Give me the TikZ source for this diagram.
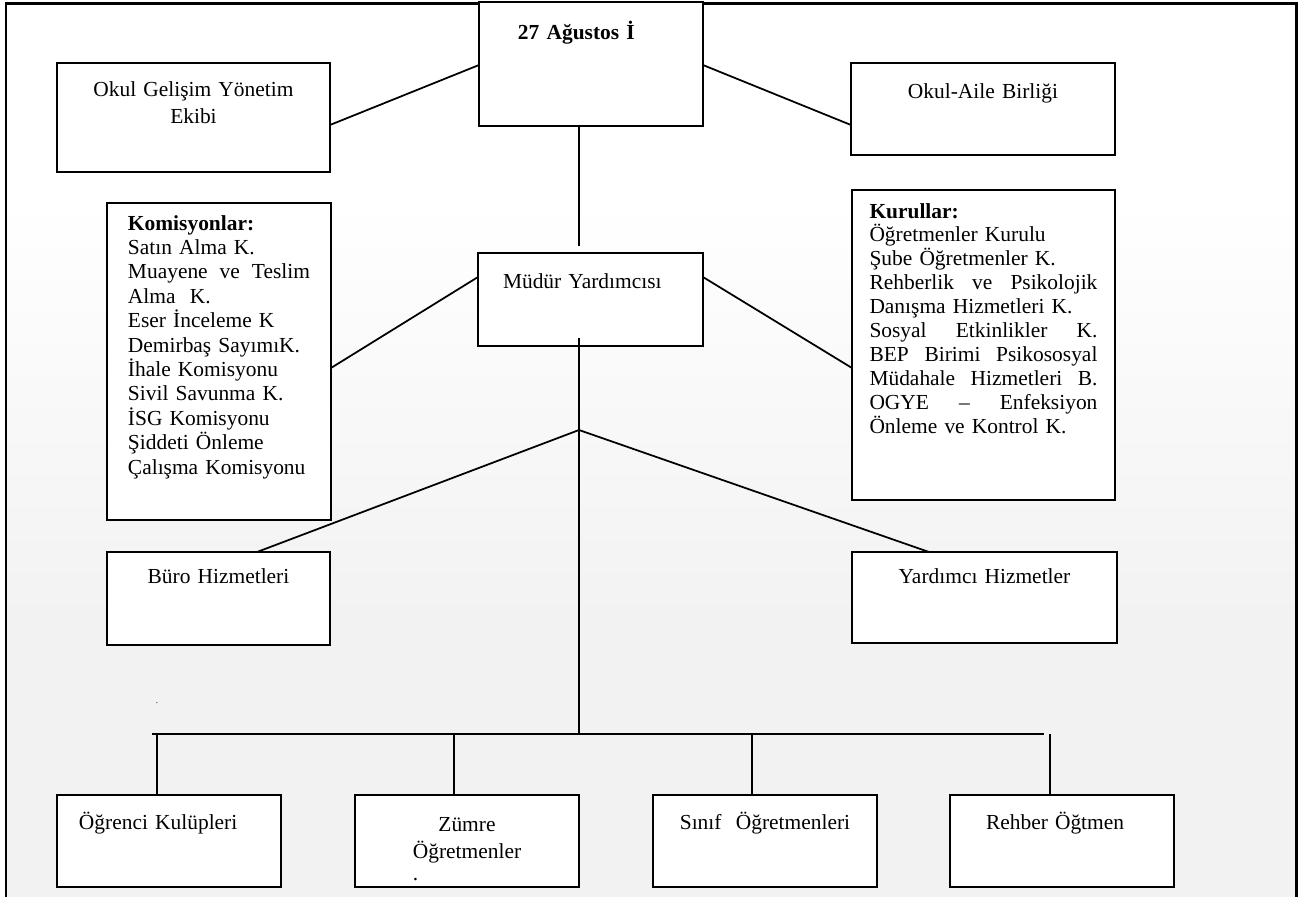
\documentclass[tikz,border=0pt]{standalone}
\usepackage{fontspec}
\setmainfont{Liberation Serif}
\usetikzlibrary{calc}
\definecolor{zemin}{RGB}{242,242,242}

\begin{document}
\begin{tikzpicture}[x=0.02cm,y=-0.02cm,
  kutu/.style={draw,line width=1.1pt,fill=white,anchor=north west,outer sep=0pt,inner ysep=0pt,font=\fontsize{12.2}{15.6}\selectfont},
  liste/.style={kutu,align=left,font=\fontsize{12.2}{13.6}\selectfont},
  cizgi/.style={line width=1pt}]

\useasboundingbox (0,0) rectangle (1312,897);
\fill[white] (0,0) rectangle (1312,897);
\fill[white] (6,3) rectangle (1296,200);
\shade[top color=white,bottom color=zemin] (6,200) rectangle (1296,620);
\fill[zemin] (6,620) rectangle (1296,897);
\draw[line width=1.7pt] (6,897) -- (6,3) -- (1296,3) -- (1296,897);

\node[kutu,text width=2.92cm,inner xsep=0.78cm,align=left,text height=0.74cm,text depth=1.74cm] (title) at (479,2) {\textbf{27 Ağustos İ}};
\node[kutu,text width=5.46cm,inner xsep=0pt,align=center,text height=0.66cm,text depth=1.52cm] (okul) at (57,63) {Okul Gelişim Yönetim\\Ekibi};
\node[kutu,text width=5.28cm,inner xsep=0pt,align=center,text height=0.70cm,text depth=1.14cm] (aile) at (851,63) {Okul-Aile Birliği};
\node[kutu,text width=3.5cm,inner xsep=0.5cm,align=left,text height=0.70cm,text depth=1.16cm] (mudur) at (478,253) {Müdür Yardımcısı};

\node[liste,font=\fontsize{12.2}{13.9}\selectfont,text width=3.64cm,inner xsep=0.42cm,text height=0.54cm,text depth=5.8cm] (komisyon) at (107,203) {\textbf{Komisyonlar:}\\
Satın Alma K.\\
Muayene\hfill ve\hfill Teslim\\
Alma~~K.\\
Eser İnceleme K\\
Demirbaş SayımıK.\\
İhale Komisyonu\\
Sivil Savunma K.\\
İSG Komisyonu\\
Şiddeti Önleme\\
Çalışma Komisyonu};

\node[liste,text width=4.56cm,inner xsep=0.35cm,text height=0.56cm,text depth=5.64cm] (kurullar) at (852,190) {\textbf{Kurullar:}\\
Öğretmenler Kurulu\\
Şube Öğretmenler K.\\
Rehberlik\hfill ve\hfill Psikolojik\\
Danışma Hizmetleri K.\\
Sosyal\hfill Etkinlikler\hfill K.\\
BEP\hfill Birimi\hfill Psikososyal\\
Müdahale\hfill Hizmetleri\hfill B.\\
OGYE\hfill –\hfill Enfeksiyon\\
Önleme ve Kontrol K.};

\node[kutu,text width=4.46cm,inner xsep=0pt,align=center,text height=0.62cm,text depth=1.24cm] (buro) at (107,552) {Büro Hizmetleri};
\node[kutu,text width=5.3cm,inner xsep=0pt,align=center,text height=0.62cm,text depth=1.2cm] (yardimci) at (852,552) {Yardımcı Hizmetler};

\node[font=\fontsize{5}{5}\selectfont] (nokta) at (157,703) {.};

\node[kutu,text width=3.6cm,inner xsep=0.44cm,align=left,text height=0.68cm,text depth=1.16cm] (ogr) at (57,795) {Öğrenci Kulüpleri};
\node[kutu,text width=4.48cm,inner xsep=0pt,align=center,text height=0.72cm,text depth=1.12cm] (zumre) at (355,795) {Zümre\\Öğretmenler\\[-3pt]\leavevmode\rlap{.}\phantom{Öğretmenler}};
\node[kutu,text width=4.48cm,inner xsep=0pt,align=center,text height=0.68cm,text depth=1.16cm] (sinif) at (653,795) {Sınıf~~Öğretmenleri};
\node[kutu,text width=3.04cm,inner xsep=0.72cm,align=left,text height=0.68cm,text depth=1.16cm] (rehber) at (950,795) {Rehber Öğtmen};

\coordinate (hub) at (579,430);
\coordinate (busl) at (152,734);
\coordinate (busm) at (579,734);
\coordinate (busr) at (1044,734);

\draw[cizgi] ($(title.north west)+(0,63)$) -- ($(okul.north east)+(0,62)$);
\draw[cizgi] ($(title.north east)+(0,63)$) -- ($(aile.north west)+(0,62)$);
\draw[cizgi] ($(title.south west)+(100,0)$) -- ($(mudur.north west)+(101,-7)$);
\draw[cizgi] ($(komisyon.north east)+(0,165)$) -- ($(mudur.north west)+(0,24)$);
\draw[cizgi] ($(mudur.north east)+(0,24)$) -- ($(kurullar.north west)+(0,178)$);
\draw[cizgi] ($(mudur.south west)+(101,-8)$) -- (busm);
\draw[cizgi] ($(buro.north west)+(150,0)$) -- (hub) -- ($(yardimci.north west)+(77,0)$);
\draw[cizgi] (busl) -- (busr);
\draw[cizgi] (ogr.north west) ++(100,0) -- ++(0,-61);
\draw[cizgi] (zumre.north west) ++(99,0) -- ++(0,-61);
\draw[cizgi] (sinif.north west) ++(99,0) -- ++(0,-61);
\draw[cizgi] (rehber.north west) ++(100,0) -- ++(0,-61);
\end{tikzpicture}
\end{document}
